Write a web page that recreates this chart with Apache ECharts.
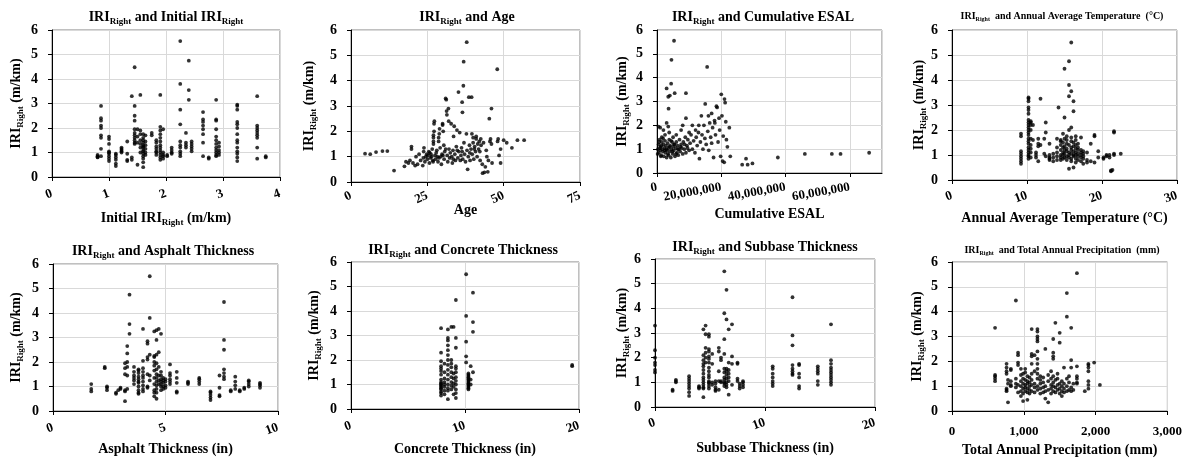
<!DOCTYPE html>
<html><head><meta charset="utf-8">
<script src="https://cdn.jsdelivr.net/npm/echarts@6/dist/echarts.min.js"></script>
<style>html,body{margin:0;padding:0;background:#fff}#c{width:1185px;height:460px}</style>
</head><body><div id="c"></div>
<script>
// ---- DATA: each group is [x, y1, y2, ...] (IRI Right in m/km) ----
const initialIriGroups = [
[0.8,0.8,0.85,0.9,0.82],[0.86,0.85,1.15,1.6,1.7,2.0,2.1,2.3,2.4,2.9],
[1.0,0.65,0.75,0.85,0.95,1.0,1.05,1.35,1.55,1.65],[1.12,0.45,0.55,0.7,0.8,0.9,0.95],
[1.22,1.0,1.05,1.1,1.15,1.2],[1.32,0.65,0.7,0.95,1.45],[1.4,0.7,0.8,3.3],
[1.45,1.35,1.4,1.5,1.6,1.7,1.8,1.95,2.3,2.5,2.9,4.48],[1.5,0.5,1.4,1.65,1.95],
[1.55,1.0,1.2,1.35,1.5,1.75,1.9,3.35],
[1.6,0.4,0.6,0.75,0.85,0.95,1.05,1.1,1.2,1.25,1.3,1.4,1.5,1.6,1.75],
[1.64,0.9,1.0,1.15,1.3,1.45,1.7],[1.75,1.7,1.8],[1.83,0.9,1.0,1.05,1.15,1.25,1.4,1.5],
[1.9,0.7,0.8,0.9,1.0,1.1,1.2,1.3,1.45,1.6,1.75,1.9,2.05,3.35],[1.95,0.75,0.85,0.9,1.0,1.95],
[2.02,0.85,0.9],[2.1,0.95,1.0,1.1,1.2],[2.25,0.85,0.95,1.05,1.2,1.3,1.45,2.15,2.75,3.8,5.55],
[2.35,1.2,1.3,1.4,1.8],[2.4,3.15,3.55,4.75],[2.45,1.05,1.15,1.25,1.35,1.45],
[2.65,0.85,1.4,1.75,1.95,2.1,2.25,2.35,2.65],[2.75,0.75,0.8],
[2.88,0.85,0.9,1.0,1.1,1.2,1.35,1.5,1.65,1.95,2.3,2.35,3.15],[2.93,0.9,1.0,1.1,1.25,1.4],
[3.25,0.65,0.8,0.95,1.05,1.2,1.4,1.5,1.75,2.0,2.15,2.25,2.75,2.9,2.95],
[3.6,0.75,1.2,1.6,1.7,1.8,1.9,2.0,2.1,3.3],[3.75,0.8,0.85]
];
const ageGroups = [
[4.6,1.12],[6.3,1.1],[8.2,1.18],[10.3,1.22],[11.9,1.22],[14.1,0.45],[17.5,0.62],[18,0.8],[18.8,0.75],
[19.3,0.85],[19.8,1.3,1.4],[20.3,0.75],[21,0.65],[21.3,1.0],[21.8,0.7],[22.3,1.1],[22.8,0.85],[23.5,0.65],
[23.7,0.95],[23.8,1.2],[23.9,1.35],[24.2,0.8],[24.5,1.0],[24.8,1.1],[25,0.9],[25.2,1.05],[25.5,1.2],
[25.7,0.75],[25.8,1.15],[26,0.95],[26.2,1.1],[26.4,1.0],[26.6,1.3],[26.8,0.85],[26.9,0.8],
[27,1.5,1.6,1.75,1.85],[27.2,2.0,2.3],[27.3,2.4],[27.5,1.05],[27.7,0.9],[27.9,1.15],[28.1,1.25],
[28.3,1.0],[28.5,0.8],[28.7,1.6,1.75],[28.8,0.95],[28.9,1.9],[29,2.1],[29.2,1.35],[29.4,1.0],[29.6,0.7],
[29.8,1.1],[30,2.25,2.3],[30.1,1.05],[30.2,2.0],[30.4,1.45],[30.5,0.9],[30.7,1.2],[31,3.3,1.3],
[31.2,3.25],[31.3,2.8],[31.4,2.65],[31.5,1.05],[31.7,0.8],[31.9,2.9],[32,2.4],[32.1,1.3],[32.3,0.95],
[32.5,1.15],[32.8,2.3],[33,1.0],[33.2,0.75],[33.4,1.25],[33.5,0.9],[33.6,1.8],[33.8,2.2],[34,1.1],
[34.2,0.85],[34.5,1.4],[34.7,2.05],[34.8,1.25],[35,0.95],[35.2,3.55],[35.3,1.2],[35.6,1.95],[35.8,0.85],
[36,1.05],[36.2,1.35],[36.4,3.15,1.2],[36.5,2.75],[36.6,0.9],[36.8,3.8],[36.9,4.75],[37,1.55],[37.2,1.1],
[37.5,0.8],[37.8,1.9],[37.9,5.52],[38,1.25],[38.2,0.5],[38.4,1.0],[38.6,3.35],[38.8,1.45],[38.9,1.15],
[39,0.85],[39.3,1.3],[39.5,3.35],[39.6,1.9],[39.7,1.1],[40,1.55,1.75],[40.2,0.9],[40.4,1.3],[40.5,1.4],
[40.8,1.2],[41,1.7,1.8],[41.3,1.0],[41.5,1.5],[41.8,1.3],[42,1.6],[42.2,1.2],[42.3,0.85],[42.5,1.7],
[42.6,1.45],[43,0.7],[43.1,0.35],[43.4,1.55],[43.7,0.38],[44,0.6],[44.3,1.25],[44.5,1.0],[44.8,0.4],
[45,0.85],[45.3,2.5],[45.5,1.6],[45.7,1.7],[46,2.9,1.5],[46.2,0.75],[47.9,4.45],[48,1.6],[48.2,1.7],
[48.5,1.05],[49,0.75,1.3],[50,1.65],[51,1.55],[52.7,1.35],[54.5,1.65],[56.7,1.65]
];
const esalMillionGroups = [
[0.2,0.8],[0.3,1.0],[0.5,1.2,1.95],[0.6,0.85],[0.7,1.3],[0.8,1.4],[0.9,1.05],[1,0.95,1.9],[1.1,1.1],
[1.2,0.7],[1.3,0.75],[1.4,1.15],[1.5,1.3,1.5],[1.6,1.0],[1.8,0.9],[1.9,1.45],[2,1.2,1.8],[2.1,0.7],
[2.3,1.05],[2.4,0.95],[2.5,1.35,1.6],[2.6,0.85],[2.8,1.15],[2.9,1.0],[3,0.65,2.1,3.55],[3.1,0.95],
[3.3,1.25],[3.4,0.8],[3.5,1.05,3.2,1.95],[3.6,0.75,2.7],[3.8,1.4,1.7],[3.9,1.1],[4,0.9,3.25],[4.1,1.15],
[4.3,0.65],[4.4,1.35,3.75],[4.5,1.0,4.75],[4.7,1.3],[4.8,0.9],[4.9,0.8],[5,1.1,1.5],[5.2,0.95],
[5.3,1.2,5.55],[5.4,1.2],[5.5,3.35],[5.6,0.7],[5.8,1.05],[5.9,0.8],[6,1.3,1.6],[6.2,0.85],[6.4,1.15],
[6.5,1.0],[6.6,0.75],[6.8,1.0],[7,1.4],[7.2,0.9],[7.3,1.1],[7.5,1.2,1.8],[7.7,1.05],[8,0.8,2.0],[8.2,1.3],
[8.5,1.0],[8.6,1.2],[8.8,1.5],[9,0.85,2.3,3.35],[9.3,1.15],[9.5,1.05],[9.6,1.4],[10,0.95,1.7],[10.3,1.25],
[10.6,1.6],[11,1.0,2.0],[11.4,1.35],[11.8,0.85],[12,1.8],[12.2,1.5],[12.5,1.15],[12.9,1.7],[13,2.0],
[13.2,0.6],[13.5,1.3],[13.8,2.4],[14,1.6],[14.3,1.0],[14.6,2.0],[14.9,1.45],[15,2.9],[15.3,1.2],
[15.6,4.45],[15.8,1.75],[16,2.4],[16.1,0.95],[16.4,2.1],[16.7,1.5],[17,1.25,2.5],[17.3,1.9],[17.6,0.65],
[17.9,2.2],[18,2.1],[18.2,1.6],[18.5,2.8],[18.7,2.75],[19,1.3],[19.3,2.3],[19.5,1.8],[19.8,0.7],[20,3.3],
[20.2,2.4],[20.4,0.5],[20.6,1.55],[20.9,0.45],[21,3.1],[21.2,2.95],[21.4,2.15],[21.6,1.4],[21.9,1.1],
[22.5,1.9],[22.8,0.7],[26.5,0.35],[27.7,0.6],[28.2,0.35],[29.7,0.4],[37.6,0.65],[46,0.8],[54.4,0.8],
[57.1,0.8],[66,0.85]
];
const temperatureGroups = [
[9.2,0.65,0.75,0.85,0.95,1.05,1.15,1.75,1.85],
[10.2,0.85,0.95,1.0,1.1,1.2,1.3,1.45,1.55,1.65,1.8,1.9,2.0,2.1,2.2,2.3,2.4,2.65,2.8,2.9,3.15,3.25,3.3],
[10.5,0.9,1.1,1.25,1.4,1.65,2.0,2.2,2.3,2.35],[10.8,1.6,2.2],[11.2,0.9,1.0,1.1],[11.5,1.35,1.45,1.65,0.75],
[11.8,3.25,1.4],[12.3,1.05,1.65],[12.5,2.3,1.9,0.95],[13,0.8,0.85,0.9,1.0,1.45],[13.5,0.75,0.9,1.05],
[14,0.8,0.95,1.1,1.3,1.65],[14.2,2.9],[14.5,0.8,0.9,1.0,1.2,1.4,1.55,1.6],[14.8,0.85,1.0,1.1,1.3,1.5,1.85],
[15.0,2.5,4.45,0.9,1.05,1.2,1.35,1.65],[15.3,0.8,0.95,1.15,1.25,1.45,1.6,1.75],
[15.6,3.35,3.8,4.75,0.45,0.9,1.0,1.1,1.4,2.0],[15.9,5.5,3.55,2.1,0.75,0.85,1.05,1.2,1.3,1.55,1.7],
[16.2,3.15,2.75,0.95,1.0,1.15,1.35,1.5,0.5],[16.5,0.7,0.85,1.0,1.1,1.25,1.4,1.6,1.75],
[16.8,0.8,0.95,1.05,1.2,1.3,1.45],[17.2,0.75,0.9,1.0,1.1,1.2,1.7],[17.5,0.65,0.85,0.95,1.05,1.15],
[18,0.7,0.8,1.1],[18.5,0.75,1.45],[19,1.75,1.8,0.7],[19.5,0.9,1.15],[20.2,0.85,0.9],[20.6,0.95,1.0],
[21,0.9,1.0],[21.2,0.35,0.38],[21.4,0.4],[21.6,1.9,1.95,1.05,1.0],[22.5,1.05]
];
const asphaltGroups = [
[1.7,0.8,0.9,1.1],[2.3,1.75,1.8],[2.4,0.85,0.95,1.0],[2.8,0.7,0.75],[2.9,0.85],[3.0,0.9,0.95],
[3.2,0.4,0.8,0.85,1.5,1.75,1.95],[3.3,0.9,1.45,1.8,2.0,2.35,2.65],[3.4,3.15,3.55,4.75],
[3.6,1.1,1.25,1.35,1.45,1.6,1.8],[3.8,0.7,0.85,1.0,1.15,1.2,1.3,1.4,1.55,1.65,1.7,0.75],
[4.0,0.8,0.9,1.05,1.2,1.35,1.45,1.6,1.75,2.05,3.35],[4.2,0.95,1.0,1.5,2.1,2.2,2.75,2.85],
[4.3,5.5,3.8,2.3,1.25,1.45],[4.5,0.6,0.75,0.85,1.1,1.35,1.65,1.85,2.0,2.2,2.25,3.25],
[4.6,0.5,0.75,0.9,1.05,1.2,1.35,1.5,1.7,1.95,2.3,2.9,3.3],[4.7,1.1,1.25,1.45,1.8,2.4,3.35],
[4.8,0.85,1.0,1.1,1.2,1.3,1.45,1.6,3.15],[4.9,0.9,1.0,1.15,1.25,1.35],[5.0,0.95,1.05,1.2,1.3],
[5.2,1.1,1.2,1.3,1.45,1.55,1.9],[5.5,0.75,0.8,1.15,1.35,1.6],[6.0,1.1,1.15,1.2],[6.5,1.1,1.2,1.3,1.35],
[7.0,0.45,0.55,0.65,0.75,0.8],[7.4,0.6,0.65,0.95,1.45],[7.6,1.3,1.4,1.55,1.7,2.5,2.9,4.45],
[7.9,0.8,0.85],[8.1,0.9,1.05,1.2,1.4],[8.3,0.8,0.85],[8.5,0.9,0.95],[8.7,1.0,1.1,1.2,1.25],
[9.2,0.95,1.05,1.1,1.15]
];
const concreteGroups = [
[7.9,0.55,0.65,0.7,0.8,0.85,0.9,0.95,1.0,1.05,1.1,1.2,1.4,1.55,1.65,1.75,1.95,2.3,3.3],
[8.2,0.6,0.75,0.9,1.0,1.1,1.25,1.5,1.85],
[8.5,0.4,0.75,0.85,1.0,1.2,1.4,1.6,1.8,2.0,2.2,2.4,2.6,2.8,2.9,3.25],
[8.8,0.8,0.95,1.1,1.3,1.5,1.7,1.85,2.0,3.35],[9.0,0.6,0.9,1.05,1.25,1.45,3.35],
[9.2,0.45,0.65,0.8,1.0,1.15,1.3,1.5,1.65,1.75,2.5,2.9,4.45],[10.1,5.5,3.8,2.75,2.15,1.9],
[10.3,0.8,0.85,0.9,0.95,1.0,1.05,1.1,1.15,1.2,1.25,1.3,1.35,1.4,1.45],[10.5,1.75,1.0,1.2],
[10.7,4.75,3.55,3.15,1.5],[19.4,1.75,1.8]
];
const subbaseGroups = [
[0,1.4,1.5,1.7,1.8,2.0,2.3,3.3],[1.6,0.65,0.7],[1.9,1.0,1.05,1.1],
[3.1,0.45,0.6,0.75,0.85,0.95,1.05,1.15,1.25],[4.0,0.75,0.8,0.85],
[4.4,0.4,0.75,0.8,0.9,1.0,1.1,1.2,1.35,1.5,1.65,1.75,1.9,2.1,3.15],[4.6,3.3,2.95,2.4,2.2,2.0,1.8],
[4.9,0.75,0.85,0.95,1.0,1.05,1.2,1.3,1.45,1.6,1.8,1.95,2.05,2.25,2.35,2.85,2.95],
[5.2,0.9,1.0,1.75,2.15],[5.5,0.65,0.7,0.8,0.95,1.05],[5.8,2.4,2.25,1.45,1.05,0.7],[6.0,1.0,1.05,1.9,2.0],
[6.3,5.5,3.8,2.75,2.15,1.55,1.4,1.2,1.1,1.0,0.95,0.85],[6.5,4.75,3.55,1.55,1.45,1.3,1.15,1.0,0.9,0.8],
[6.7,3.15,1.8,1.5,1.35,1.2,1.05,0.5],[7.0,3.35,2.05,1.75,0.9],[7.5,1.75,1.8,1.15,1.05],
[7.7,0.75,0.85,0.95],[8.0,0.8,0.9,1.0,1.05],[10.7,0.85,0.95,1.05,1.2,1.35,1.55,1.65],
[12.5,1.3,1.35,1.45,1.55,1.7,2.5,2.9,4.45],[13.1,0.75,0.85,1.2,1.35,1.7,1.75],
[14.8,0.9,1.05,1.35,1.45,1.55,1.65],[16.0,0.9,1.0,1.1,1.2,1.3,1.4,1.5,1.6,1.75,1.9,3.35]
];
const precipitationGroups = [
[600,1.2,1.3,1.4,1.45,3.35],[760,0.8,0.85,0.9,1.5,1.6,1.75,1.9],[780,0.35,1.25,1.1],
[820,1.0,1.05,1.2,1.65,1.7],[890,4.45,0.95,1.1,1.3],[920,1.85,1.95,2.25,2.35,0.75,1.05],
[960,0.6,0.8,1.0,1.2,1.45,1.7],[990,0.4,0.7,0.9,1.1,1.3,1.5],[1020,0.8,0.95,1.05,1.25,1.55,1.7],
[1050,0.45,0.75,0.9,1.1,1.2,1.4],[1080,0.7,0.85,1.0,1.15,1.35],[1110,3.3,2.3,2.2,1.9,0.8,1.05,1.25,1.5],
[1150,2.25,0.75,0.95,1.1,1.6],[1190,3.3,3.2,3.0,2.9,2.8,2.4,2.1,1.9,1.7,1.5,1.3,1.0,0.85],
[1230,0.7,0.9,1.1,1.25,1.4],[1270,0.75,0.95,1.15,1.35],[1300,2.5,0.5,0.8,1.0],[1340,0.35,0.85,1.2,1.45],
[1380,0.7,0.9,1.05,1.3,1.6],[1410,2.9,2.35,2.2,2.1,0.8,1.0,1.15,1.4],[1440,3.55,0.75,0.95,1.25],
[1470,0.85,1.05,1.3,1.5],[1500,3.15,2.75,0.7,0.9,1.1],[1530,0.6,0.8,1.0,1.2],[1560,0.75,0.9,1.1,1.75],
[1600,4.75,3.8,0.8,1.0,1.3],[1630,0.85,1.15,1.4],[1660,3.35,2.05,0.8,0.95,1.75],[1690,0.85,1.1],
[1740,5.55,1.8,1.4,1.3,1.15,1.1],[1850,0.8],[1900,1.9,1.85,1.75,1.6,1.2,1.05,0.9],[1980,1.95],[2060,1.05]
];
const ESAL_UNIT = 1e6;

const FONT = 'Liberation Serif';
function expand(groups, scale) {
  const out = [];
  groups.forEach(g => { for (let i = 1; i < g.length; i++) out.push([g[0] * (scale || 1), g[i]]); });
  return out;
}
const yName = 'IRI{s|Right} (m/km)';
const panels = [
  {data: expand(initialIriGroups), grid: [52,30,228,147], max: 4, interval: 1, rot: 20, lm: 16,
   xName: 'Initial IRI{s|Right} (m/km)', xGap: 32, yGap: 27,
   title: 'IRI{s|Right} and Initial IRI{s|Right}', tx: 166, ty: 17, tf: 14},
  {data: expand(ageGroups), grid: [351,30,229,152], max: 75, interval: 25, rot: 25, lm: 13,
   xName: 'Age', xGap: 19, yGap: 33,
   title: 'IRI{s|Right} and Age', tx: 467, ty: 17, tf: 14},
  {data: expand(esalMillionGroups, ESAL_UNIT), grid: [657,30,225,143], max: 70e6, interval: 20e6, rot: 10, lm: 14,
   xName: 'Cumulative ESAL', xGap: 32, yGap: 26, hideMax: true,
   title: 'IRI{s|Right} and Cumulative ESAL', tx: 763, ty: 17, tf: 14},
  {data: expand(temperatureGroups), grid: [952,30,225,150], max: 30, interval: 10, rot: 20, lm: 15,
   xName: 'Annual Average Temperature (°C)', xGap: 29, yGap: 24,
   title: 'IRI{s|Right}  and Annual Average Temperature  (°C)', tx: 1062, ty: 16, tf: 10},
  {data: expand(asphaltGroups), grid: [53,264,225,147], max: 10, interval: 5, rot: 20, lm: 16,
   xName: 'Asphalt Thickness (in)', xGap: 29, yGap: 28,
   title: 'IRI{s|Right} and Asphalt Thickness', tx: 163, ty: 251, tf: 14},
  {data: expand(concreteGroups), grid: [351,262,228,147], max: 20, interval: 10, rot: 20, lm: 16,
   xName: 'Concrete Thickness (in)', xGap: 31, yGap: 28,
   title: 'IRI{s|Right} and Concrete Thickness', tx: 463, ty: 250, tf: 14},
  {data: expand(subbaseGroups), grid: [655,259,220,148], max: 20, interval: 10, rot: 20, lm: 15,
   xName: 'Subbase Thickness (in)', xGap: 32, yGap: 24,
   title: 'IRI{s|Right} and Subbase Thickness', tx: 765, ty: 247, tf: 14},
  {data: expand(precipitationGroups), grid: [952,262,230,150], max: 3000, interval: 1000, rot: 0, lm: 14,
   xName: 'Total Annual Precipitation (mm)', xGap: 30, yGap: 26,
   title: 'IRI{s|Right}  and Total Annual Precipitation  (mm)', tx: 1062, ty: 250, tf: 10}
];

function richFor(size) {
  return {
    s: {fontFamily: FONT, fontWeight: 'bold', fontSize: Math.round(size * 0.64), color: '#000',
        verticalAlign: 'bottom', lineHeight: Math.round(size * 0.55)}
  };
}
const axisText = {fontFamily: FONT, fontWeight: 'bold', fontSize: 14, color: '#000', lineHeight: 18, rich: richFor(14)};

const option = {
  backgroundColor: '#fff',
  animation: false,
  grid: panels.map(p => ({left: p.grid[0], top: p.grid[1], width: p.grid[2], height: p.grid[3],
    show: true, borderColor: '#808080', borderWidth: 1, containLabel: false})),
  xAxis: panels.map((p, i) => ({
    type: 'value', gridIndex: i, min: 0, max: p.max, interval: p.interval,
    name: p.xName, nameLocation: 'middle', nameGap: p.xGap, nameTextStyle: axisText, nameMoveOverlap: false,
    axisLine: {show: true, onZero: false, lineStyle: {color: '#000', width: 1}},
    axisTick: {show: true, length: 4, lineStyle: {color: '#000'}},
    splitLine: {show: true, lineStyle: {color: '#d9d9d9', width: 1}},
    axisLabel: {rotate: p.rot, margin: p.lm, fontFamily: FONT, fontWeight: 'bold', fontSize: 13, color: '#000',
      showMaxLabel: !p.hideMax, hideOverlap: false,
      formatter: v => v.toLocaleString('en-US')}
  })),
  yAxis: panels.map((p, i) => ({
    type: 'value', gridIndex: i, min: 0, max: 6, interval: 1,
    name: yName, nameLocation: 'middle', nameRotate: 90, nameGap: p.yGap, nameTextStyle: axisText, nameMoveOverlap: false,
    axisLine: {show: true, onZero: false, lineStyle: {color: '#000', width: 1}},
    axisTick: {show: true, length: 4, lineStyle: {color: '#000'}},
    splitLine: {show: true, lineStyle: {color: '#d9d9d9', width: 1}},
    axisLabel: {margin: 14, fontFamily: FONT, fontWeight: 'bold', fontSize: 14, color: '#000'}
  })),
  series: panels.map((p, i) => ({
    type: 'scatter', xAxisIndex: i, yAxisIndex: i, data: p.data,
    symbol: 'circle', symbolSize: 3.8, itemStyle: {color: '#000'}
  })),
  graphic: panels.map(p => ({
    type: 'text', x: p.tx, y: p.ty,
    style: {text: p.title, fill: '#000', align: 'center', verticalAlign: 'middle',
      fontFamily: FONT, fontWeight: 'bold', fontSize: p.tf, lineHeight: Math.round(p.tf * 1.3),
      rich: richFor(p.tf)}
  }))
};
const chart = echarts.init(document.getElementById('c'), null, {renderer: 'canvas'});
chart.setOption(option);
</script>
</body></html>
